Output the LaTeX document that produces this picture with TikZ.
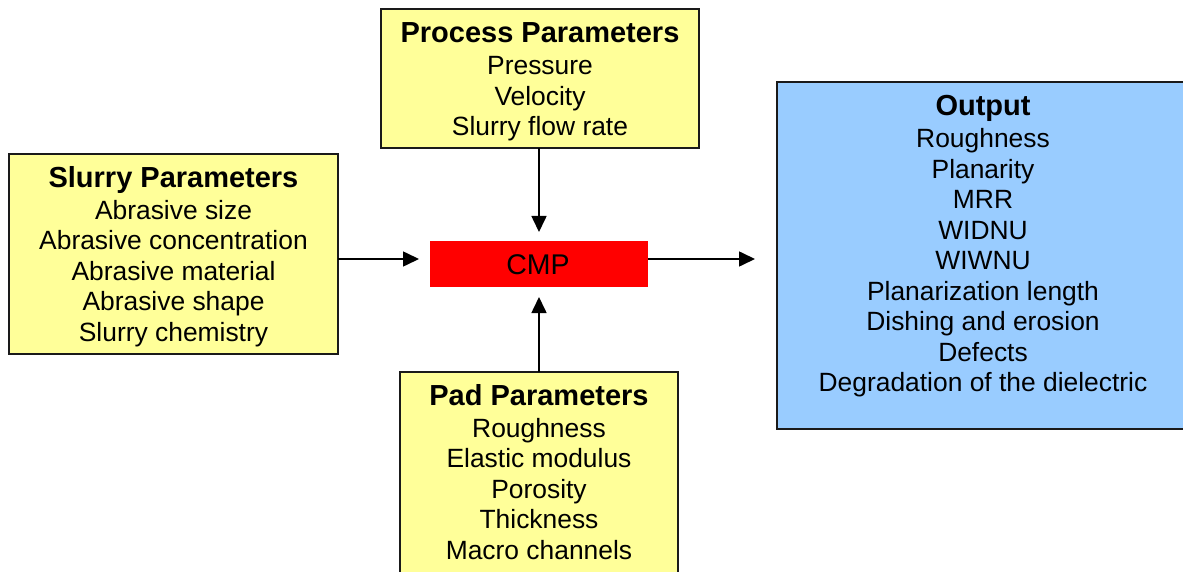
\documentclass[tikz,border=0pt]{standalone}
\usepackage{fontspec}
\setmainfont{Liberation Sans}
\usetikzlibrary{arrows.meta}
\definecolor{paramyellow}{HTML}{FFFF99}
\definecolor{outblue}{HTML}{99CCFF}
\definecolor{cmpred}{HTML}{FF0000}
\definecolor{edgegray}{HTML}{1A1A1A}
\begin{document}
\begin{tikzpicture}[x=1pt,y=-1pt,
  box/.style={draw=edgegray, line width=2pt, anchor=north west, inner sep=0pt, outer sep=0pt},
  param/.style={box, fill=paramyellow},
  heading/.style={anchor=base, inner sep=0pt, font=\fontsize{29}{33}\selectfont\bfseries},
  % multi-line lists are placed by the baseline of their last line
  items/.style={anchor=base, inner sep=0pt, align=center, font=\fontsize{26.4}{30.5}\selectfont},
  flow/.style={line width=1.6pt, -{Triangle[length=16pt,width=15pt]}}]
\useasboundingbox (0,0) rectangle (1183,572);
\clip (0,0) rectangle (1183,572);
\fill[white] (0,0) rectangle (1183,572);

% boxes
\node[param, minimum width=318pt, minimum height=139pt] (proc) at (381,9) {};
\node[param, minimum width=329pt, minimum height=200pt] (slurry) at (9,154) {};
\node[box, draw=none, fill=cmpred, minimum width=218pt, minimum height=46pt] (cmp) at (430,241) {};
\node[param, minimum width=278pt, minimum height=220pt] (pad) at (400,372) {};
\node[box, fill=outblue, minimum width=412pt, minimum height=347pt] (out) at (777,82) {};

% box texts
\node[heading] (proct) at (540,43) {Process Parameters};
\node[items] (proci) at (540,136) {Pressure\\Velocity\\Slurry flow rate};

\node[heading] (slurryt) at (173.5,188) {Slurry Parameters};
\node[items] (slurryi) at (173.5,341) {Abrasive size\\Abrasive concentration\\Abrasive material\\Abrasive shape\\Slurry chemistry};

\node[anchor=base, inner sep=0pt, font=\fontsize{28.5}{30}\selectfont] (cmpt) at (538,274) {CMP};

\node[heading] (padt) at (539,405) {Pad Parameters};
\node[items] (padi) at (539,559) {Roughness\\Elastic modulus\\Porosity\\Thickness\\Macro channels};

\node[heading] (outt) at (983,115.5) {Output};
\node[items] (outi) at (983,391.5) {Roughness\\Planarity\\MRR\\WIDNU\\WIWNU\\Planarization length\\Dishing and erosion\\Defects\\Degradation of the dielectric};

% connectors
\coordinate (hub) at (539,259);
\draw[flow, shorten >=9pt] (proc.south -| hub) -- (cmp.north -| hub);
\draw[flow, shorten >=10pt] (pad.north -| hub) -- (cmp.south -| hub);
\draw[flow, shorten >=11pt] (slurry.east |- hub) -- (cmp.west |- hub);
\draw[flow, shorten >=22pt] (cmp.east |- hub) -- (out.west |- hub);
\end{tikzpicture}
\end{document}
